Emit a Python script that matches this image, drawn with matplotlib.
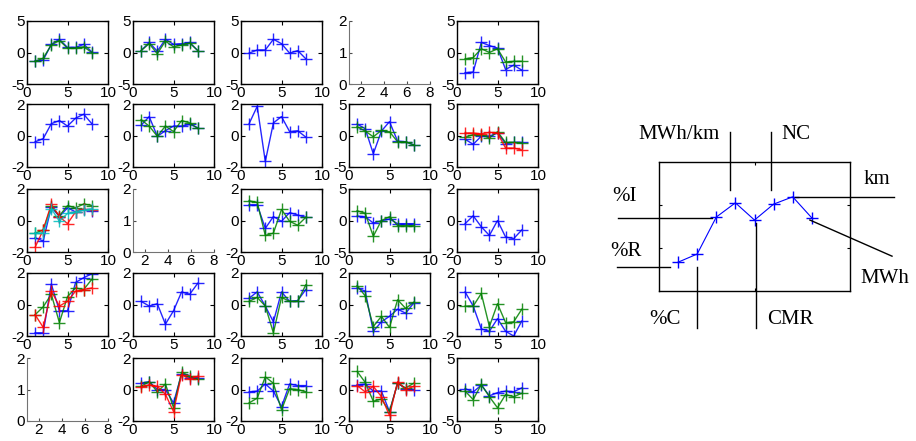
import numpy as np
import matplotlib
matplotlib.use("Agg")
import matplotlib.pyplot as plt

plt.rcParams['font.family'] = ['Liberation Sans', 'DejaVu Sans']
plt.rcParams['axes.unicode_minus'] = False

x = [1, 2, 3, 4, 5, 6, 7, 8]

# row 1
a11_b = [-1.3, -1.2, 1.3, 2.1, 0.8, 0.8, 1.3, 0.1]
a11_g = [-1.4, -0.9, 1.2, 1.9, 0.7, 0.7, 0.9, 0.0]
a12_b = [0.3, 1.6, 0.2, 2.1, 1.3, 1.4, 1.6, 0.3]
a12_g = [0.3, 1.4, -0.2, 1.8, 0.9, 1.2, 1.5, 0.3]
a13_b = [-0.1, 0.4, 0.4, 2.1, 1.4, -0.1, 0.3, -1.0]
a15_b = [-3.2, -3.1, 1.6, 1.1, 0.7, -2.7, -2.0, -2.8]
a15_g = [-1.0, -0.8, 0.6, 0.0, 0.6, -1.5, -1.4, -1.4]
# row 2
a21_b = [-0.4, -0.2, 0.75, 0.95, 0.6, 1.1, 1.35, 0.75]
a22_b = [0.65, 1.2, -0.05, 0.3, 0.6, 0.6, 0.7, 0.5]
a22_g = [1.0, 0.6, -0.05, 0.6, 0.25, 0.95, 0.8, 0.45]
a23_b = [0.75, 1.85, -1.65, 0.8, 1.2, 0.25, 0.3, -0.1]
a24_b = [1.8, 1.1, -2.9, 0.7, 2.2, -0.9, -1.0, -1.5]
a24_g = [1.4, 0.7, -0.2, 0.8, 0.6, -1.0, -1.0, -1.5]
a25_b = [-0.6, -1.4, -0.1, -0.1, 0.4, -1.3, -1.1, -1.1]
a25_g = [-0.3, 0.15, 0.15, -0.4, 0.6, -1.1, -1.1, -1.2]
a25_r = [0.4, 0.4, 0.25, 0.5, 0.4, -2.0, -2.0, -2.3]
# row 3
a31_b = [-1.1, -1.3, 0.85, 0.25, 0.8, 0.55, 0.7, 0.6]
a31_g = [-0.8, -0.6, 0.9, 0.3, 0.95, 0.8, 1.05, 0.95]
a31_r = [-1.7, -0.6, 1.05, 0.25, -0.2, 0.55, 0.7, 0.65]
a31_c = [-0.8, -0.8, 0.75, -0.05, 0.45, 0.55, 0.65, 0.75]
a33_b = [1.0, 1.0, -0.5, 0.25, -0.05, 0.5, 0.35, 0.2]
a33_g = [1.25, 1.15, -0.95, -0.8, 0.7, -0.05, -0.3, 0.2]
a34_b = [0.7, 0.6, -0.4, -0.05, 0.25, -0.5, -0.5, -0.5]
a34_g = [1.55, 1.15, -2.5, 0.0, 0.6, -0.8, -0.8, -0.8]
a35_b = [-0.2, 0.3, -0.4, -0.95, 0.0, -1.05, -1.15, -0.6]
# row 4
a41_b = [-1.8, -1.8, 1.3, -0.4, -0.4, 1.4, 1.7, 1.95]
a41_g = [-0.65, -0.15, 0.65, -1.15, 0.5, 1.05, 0.95, 1.6]
a41_r = [-0.65, -1.45, 0.85, -0.1, 0.2, 0.85, 0.95, 1.05]
a42_b = [0.2, -0.1, 0.05, -1.25, -0.4, 0.8, 0.65, 1.35]
a43_b = [0.4, 0.8, -0.1, -1.1, 0.8, 0.2, 0.25, 0.95]
a43_g = [0.2, 0.45, -0.1, -1.8, 0.45, 0.2, 0.2, 1.25]
a44_b = [1.05, 0.85, -1.7, -1.1, -0.75, -0.3, -0.55, 0.1]
a44_g = [1.2, 0.55, -1.4, -0.75, -1.45, 0.3, -0.25, 0.15]
a45_b = [0.8, -0.1, -1.55, -1.7, -0.9, -1.7, -2.0, -1.05]
a45_g = [-0.1, -0.1, 0.7, -1.4, 0.05, -1.15, -1.1, -0.3]
# row 5
a52_b = [0.4, 0.5, 0.0, 0.0, -0.85, 1.0, 0.75, 0.75]
a52_g = [0.2, 0.5, -0.15, 0.35, -1.15, 1.1, 0.85, 0.65]
a52_r = [0.15, 0.3, 0.2, -0.3, -1.4, 0.95, 0.65, 0.85]
a53_b = [-0.15, -0.1, 0.35, -0.1, -1.1, 0.35, 0.25, 0.25]
a53_g = [-0.85, -0.55, 0.8, 0.4, -1.3, 0.05, 0.0, -0.15]
a54_b = [0.3, 0.35, -0.1, -0.1, -1.4, 0.4, 0.05, 0.0]
a54_g = [1.15, 0.45, -0.75, -0.6, -1.4, 0.4, 0.1, 0.4]
a54_r = [0.25, -0.15, 0.2, -0.45, -1.65, 0.5, 0.0, 0.2]
a55_b = [0.15, -0.4, 0.7, -1.0, -0.5, -0.25, -0.35, 0.25]
a55_g = [-0.25, -1.6, 0.8, -1.15, -2.9, -0.8, -1.15, -0.6]

# key panel
key_y = [0.67, 0.86, 1.72, 2.05, 1.65, 2.02, 2.19, 1.70]
key_names = ['%R', '%C', '%I', 'MWh/km', 'CMR', 'NC', 'km', 'MWh']

B, G, R, C = '#0000ff', '#008000', '#ff0000', '#00bfbf'

# (row, col): (y limit, series)
panels = {
    (0, 0): (5, [(a11_b, B), (a11_g, G)]),
    (0, 1): (5, [(a12_b, B), (a12_g, G)]),
    (0, 2): (5, [(a13_b, B)]),
    (0, 3): None,
    (0, 4): (5, [(a15_b, B), (a15_g, G)]),
    (1, 0): (2, [(a21_b, B)]),
    (1, 1): (2, [(a22_b, B), (a22_g, G)]),
    (1, 2): (2, [(a23_b, B)]),
    (1, 3): (5, [(a24_b, B), (a24_g, G)]),
    (1, 4): (5, [(a25_b, B), (a25_g, G), (a25_r, R)]),
    (2, 0): (2, [(a31_b, B), (a31_g, G), (a31_r, R), (a31_c, C)]),
    (2, 1): None,
    (2, 2): (2, [(a33_b, B), (a33_g, G)]),
    (2, 3): (5, [(a34_b, B), (a34_g, G)]),
    (2, 4): (2, [(a35_b, B)]),
    (3, 0): (2, [(a41_b, B), (a41_g, G), (a41_r, R)]),
    (3, 1): (2, [(a42_b, B)]),
    (3, 2): (2, [(a43_b, B), (a43_g, G)]),
    (3, 3): (2, [(a44_b, B), (a44_g, G)]),
    (3, 4): (2, [(a45_b, B), (a45_g, G)]),
    (4, 0): None,
    (4, 1): (2, [(a52_b, B), (a52_g, G), (a52_r, R)]),
    (4, 2): (2, [(a53_b, B), (a53_g, G)]),
    (4, 3): (2, [(a54_b, B), (a54_g, G), (a54_r, R)]),
    (4, 4): (5, [(a55_b, B), (a55_g, G)]),
}

W, H = 916, 441
fig = plt.figure(figsize=(W / 100, H / 100), dpi=100)

col_left = [27, 133, 241, 349, 457]
row_top = [21, 104, 189, 273, 358]
aw, ah = 81, 63


def px_axes(left, top, w, h):
    return fig.add_axes([left / W, 1 - (top + h) / H, w / W, h / H])


for (r, c), spec in panels.items():
    ax = px_axes(col_left[c], row_top[r], aw, ah)
    ax.tick_params(direction='in', length=3, width=0.8, labelsize=11, pad=1.5)
    if spec is None:
        # empty axes: only left/bottom spines in grey
        for s in ['top', 'right']:
            ax.spines[s].set_visible(False)
        for s in ['left', 'bottom']:
            ax.spines[s].set_color('0.45')
            ax.spines[s].set_linewidth(0.8)
        ax.tick_params(colors='0.3', labelcolor='black', length=2)
        ax.set_xlim(1, 8)
        ax.set_ylim(0, 2)
        ax.set_xticks([2, 4, 6, 8])
        ax.set_yticks([0, 1, 2])
        continue
    lim, series = spec
    for ys, col in series:
        ax.plot(x, ys, '-', color=col, lw=1.0, marker='+', ms=8, mew=1.0, alpha=0.85)
    ax.set_xlim(0, 10)
    ax.set_ylim(-lim, lim)
    ax.set_xticks([0, 5, 10])
    ax.set_yticks([-lim, 0, lim])
    ax.tick_params(top=True, right=True)
    for s in ax.spines.values():
        s.set_linewidth(1.0)

# key panel explaining the order of the variables
kax = px_axes(659, 162, 191, 129)
kax.plot(x, key_y, '-', color=B, lw=0.8, marker='+', ms=9, mew=1.0)
kax.set_xlim(0, 10)
kax.set_ylim(0, 3)
kax.set_xticks([5])
kax.set_yticks([1, 2])
kax.tick_params(direction='in', length=2, width=0.8, top=True, right=True,
                labelbottom=False, labelleft=False)
for s in kax.spines.values():
    s.set_linewidth(1.0)

callouts = [
    ([-2.2, 0.58], [0.56, 0.56]),
    ([-2.15, 2.77], [1.70, 1.70]),
    ([3.72, 3.72], [3.70, 2.35]),
    ([5.86, 5.86], [3.70, 2.35]),
    ([7.12, 12.3], [2.19, 2.19]),
    ([7.9, 12.2], [1.65, 0.81]),
    ([2.0, 2.0], [0.56, -0.86]),
    ([5.08, 5.08], [1.58, -0.86]),
]
for xs, ys in callouts:
    kax.plot(xs, ys, color='black', lw=1.0, clip_on=False)

label_pos = {
    '%R': (-2.57, 0.93, 'left'),
    '%C': (-0.52, -0.67, 'left'),
    '%I': (-2.46, 2.19, 'left'),
    'MWh/km': (3.19, 3.63, 'right'),
    'CMR': (5.65, -0.67, 'left'),
    'NC': (6.39, 3.63, 'left'),
    'km': (10.73, 2.60, 'left'),
    'MWh': (10.52, 0.30, 'left'),
}
for name in key_names:
    lx, ly, ha = label_pos[name]
    kax.text(lx, ly, name, ha=ha, va='center', fontsize=15,
             family='Liberation Serif', clip_on=False)

fig.savefig('out.png', dpi=100)
